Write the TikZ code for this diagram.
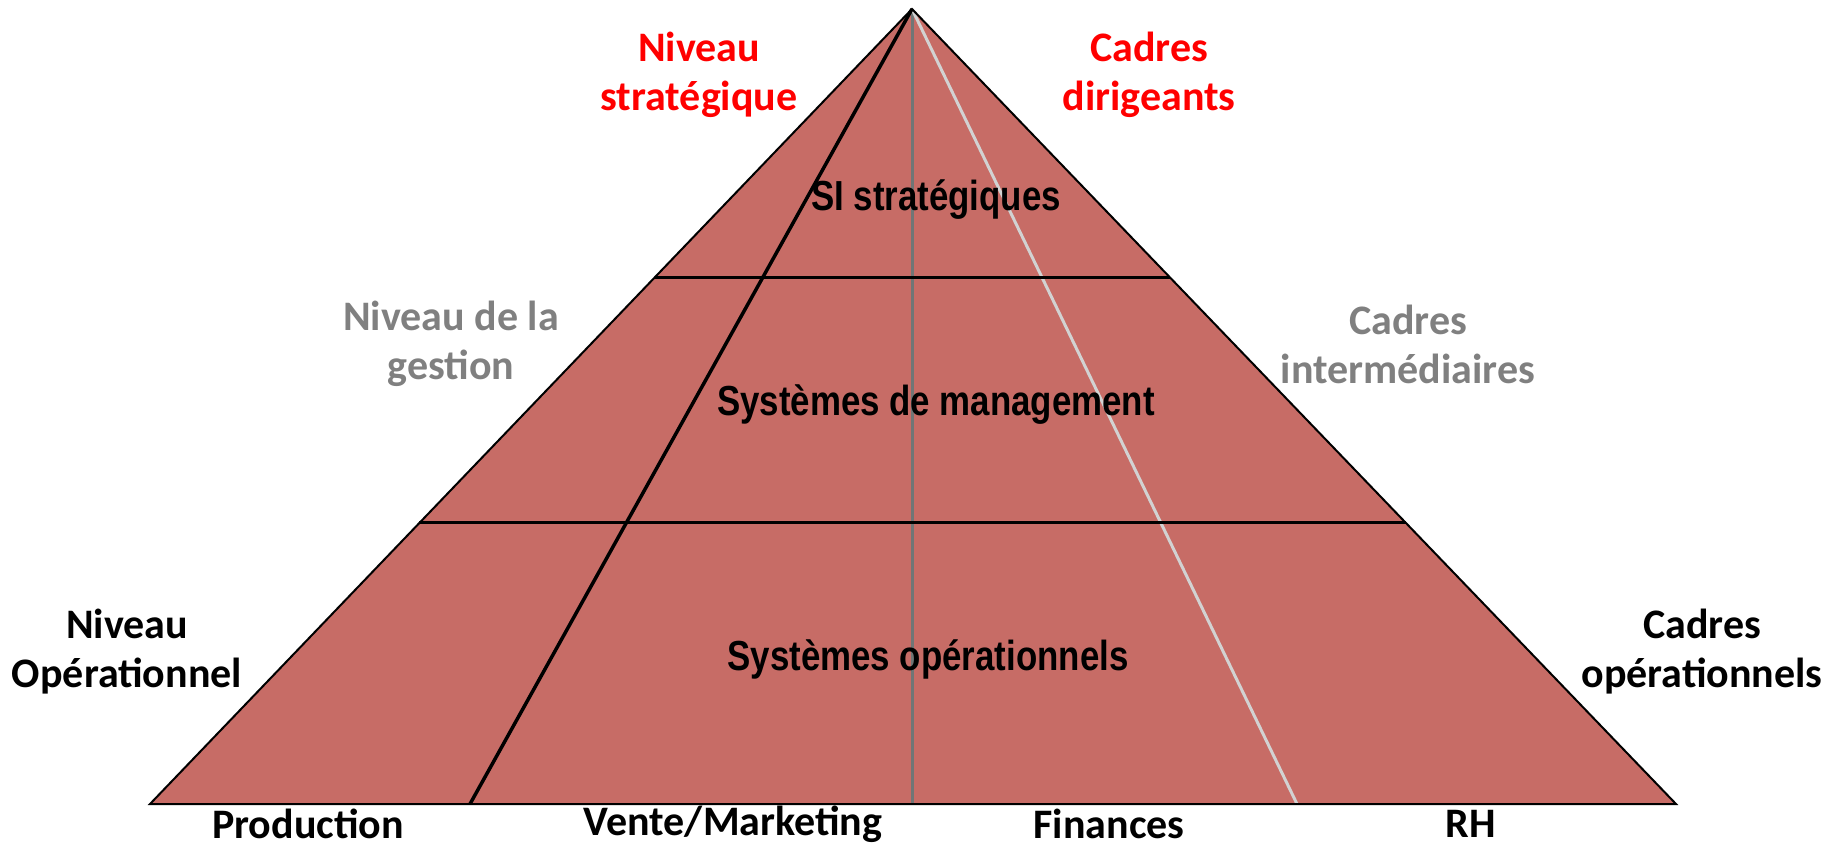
\documentclass[tikz,border=0pt]{standalone}
\usepackage{fontspec}
\newfontfamily\calfont{Carlito}
\newfontfamily\narrowfont[FakeStretch=0.83]{Liberation Sans}
\usetikzlibrary{calc}
\definecolor{pyr}{RGB}{199,108,102}
\definecolor{redlab}{RGB}{255,0,0}
\definecolor{graylab}{RGB}{128,128,128}
\definecolor{midgray}{RGB}{112,118,118}
\definecolor{lightgray}{RGB}{210,210,210}
\tikzset{
  outer/.style={font=\calfont\bfseries\fontsize{42}{49}\selectfont, align=center, inner sep=0pt},
  redtxt/.style={outer, text=redlab},
  graytxt/.style={outer, text=graylab},
  blacktxt/.style={outer, text=black},
  inner/.style={font=\narrowfont\bfseries\fontsize{42}{49}\selectfont, inner sep=0pt, text=black},
  sep/.style={draw=black, line width=3pt},
}
\begin{document}
\begin{tikzpicture}[x=1pt,y=-1pt]
\useasboundingbox (0,0) rectangle (1835,847);
\coordinate (A) at (912,9);
\coordinate (BL) at (150,804);
\coordinate (BR) at (1676,804);
\coordinate (P1) at (470,804);
\coordinate (P2) at (912,804);
\coordinate (P3) at (1297,804);
\coordinate (L1) at ($(A)!0.3371!(BL)$);
\coordinate (R1) at ($(A)!0.3371!(BR)$);
\coordinate (L2) at ($(A)!0.6465!(BL)$);
\coordinate (R2) at ($(A)!0.6465!(BR)$);
\fill[pyr] (A) -- (BL) -- (BR) -- cycle;
\draw[midgray, line width=3pt] (A) -- (P2);
\draw[lightgray, line width=3pt] (A) -- (P3);
\draw[black, line width=3.5pt] (A) -- (P1);
\draw[sep] (L1) -- (R1);
\draw[sep] (L2) -- (R2);
\draw[black, line width=2pt, line join=miter] (A) -- (BL) -- (BR) -- cycle;
% labels
\node[redtxt] (ns) at (699,75) {Niveau\\stratégique};
\node[redtxt] (cd) at (1149,75) {Cadres\\dirigeants};
\node[graytxt] (ng) at (451,344) {Niveau de la\\gestion};
\node[graytxt] (ci) at (1408,344) {Cadres\\intermédiaires};
\node[blacktxt] (no) at (127,652) {Niveau\\Opérationnel};
\node[blacktxt] (co) at (1702,652) {Cadres\\opérationnels};
\node[inner] (s1) at (936,200) {SI stratégiques};
\node[inner] (s2) at (936,405) {Systèmes de management};
\node[inner] (s3) at (928,659) {Systèmes opérationnels};
\node[blacktxt] (b1) at (308,824) {Production};
\node[blacktxt] (b2) at (733,824) {Vente/Marketing};
\node[blacktxt] (b3) at (1109,824) {Finances};
\node[blacktxt] (b4) at (1471,824) {RH};
\end{tikzpicture}
\end{document}
